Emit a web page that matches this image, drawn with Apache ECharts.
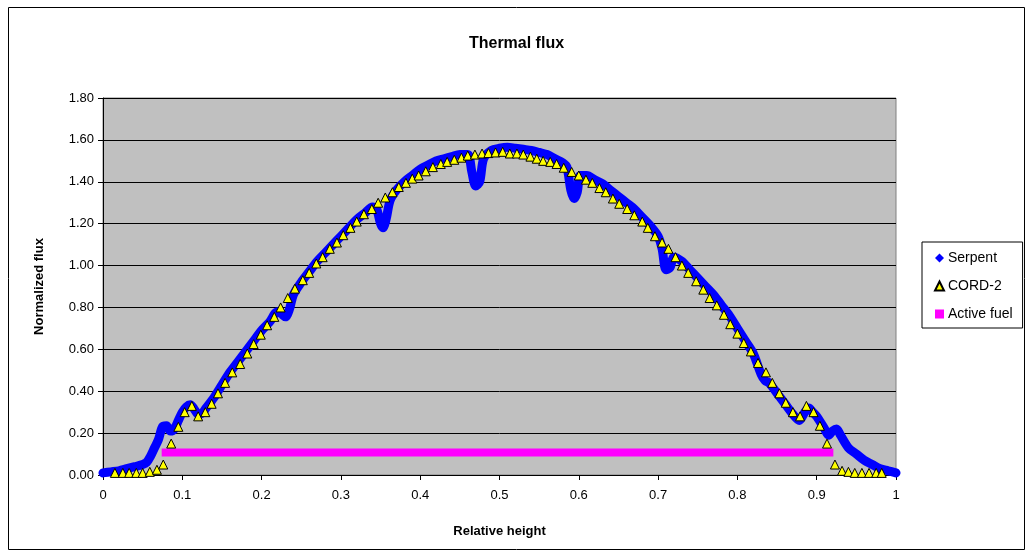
<!DOCTYPE html>
<html>
<head>
<meta charset="utf-8">
<script src="https://cdn.jsdelivr.net/npm/echarts@6/dist/echarts.min.js"></script>
<style>
  html, body { margin: 0; padding: 0; background: #fff; }
  #chart { width: 1033px; height: 557px; }
</style>
</head>
<body>
<div id="chart"></div>
<script>
// Serpent: relative height / normalized flux
const serpentX = [0.000, 0.010, 0.020, 0.030, 0.040, 0.050, 0.055, 0.060, 0.065, 0.070,
  0.075, 0.080, 0.085, 0.090, 0.095, 0.100, 0.105, 0.110, 0.115, 0.120,
  0.125, 0.130, 0.140, 0.150, 0.160, 0.170, 0.180, 0.190, 0.200, 0.210,
  0.220, 0.225, 0.230, 0.235, 0.240, 0.250, 0.260, 0.270, 0.280, 0.290,
  0.300, 0.310, 0.320, 0.330, 0.340, 0.345, 0.350, 0.353, 0.357, 0.362,
  0.370, 0.380, 0.390, 0.400, 0.410, 0.420, 0.430, 0.440, 0.450, 0.460,
  0.465, 0.470, 0.475, 0.480, 0.490, 0.500, 0.510, 0.520, 0.530, 0.540,
  0.550, 0.560, 0.570, 0.580, 0.585, 0.590, 0.594, 0.598, 0.602, 0.610,
  0.620, 0.630, 0.640, 0.650, 0.660, 0.670, 0.680, 0.690, 0.700, 0.705,
  0.710, 0.715, 0.720, 0.730, 0.740, 0.750, 0.760, 0.770, 0.780, 0.790,
  0.800, 0.810, 0.820, 0.830, 0.835, 0.840, 0.850, 0.860, 0.870, 0.878,
  0.885, 0.890, 0.895, 0.900, 0.910, 0.915, 0.920, 0.925, 0.930, 0.940,
  0.950, 0.960, 0.970, 0.980, 0.990, 1.000];
const serpentY = [0.01, 0.015, 0.02, 0.03, 0.04, 0.05, 0.06, 0.09, 0.13, 0.17,
  0.23, 0.235, 0.21, 0.22, 0.26, 0.30, 0.325, 0.335, 0.315, 0.29,
  0.295, 0.32, 0.37, 0.43, 0.49, 0.54, 0.59, 0.64, 0.69, 0.73,
  0.78, 0.77, 0.755, 0.79, 0.86, 0.92, 0.97, 1.02, 1.06, 1.10,
  1.14, 1.18, 1.22, 1.25, 1.28, 1.27, 1.20, 1.18, 1.22, 1.31,
  1.36, 1.40, 1.43, 1.46, 1.48, 1.50, 1.51, 1.52, 1.53, 1.53,
  1.45, 1.38, 1.40, 1.51, 1.55, 1.56, 1.565, 1.56, 1.555, 1.55,
  1.54, 1.53, 1.51, 1.49, 1.47, 1.36, 1.32, 1.35, 1.43, 1.43,
  1.41, 1.39, 1.36, 1.33, 1.30, 1.27, 1.23, 1.19, 1.14, 1.08,
  0.98, 0.99, 1.04, 1.02, 0.98, 0.94, 0.90, 0.86, 0.81, 0.76,
  0.70, 0.64, 0.58, 0.48, 0.45, 0.44, 0.39, 0.34, 0.29, 0.26,
  0.30, 0.32, 0.30, 0.28, 0.22, 0.19, 0.21, 0.22, 0.19, 0.13,
  0.10, 0.07, 0.05, 0.03, 0.02, 0.01];

// CORD-2
const cordX = [0.015, 0.025, 0.033, 0.042, 0.050, 0.059, 0.068, 0.076, 0.086, 0.095,
  0.103, 0.112, 0.120, 0.129, 0.137, 0.145, 0.154, 0.163, 0.173, 0.182,
  0.190, 0.199, 0.207, 0.216, 0.224, 0.233, 0.242, 0.252, 0.260, 0.269,
  0.277, 0.286, 0.295, 0.303, 0.312, 0.320, 0.329, 0.339, 0.347, 0.356,
  0.365, 0.373, 0.382, 0.390, 0.398, 0.407, 0.416, 0.426, 0.434, 0.443,
  0.452, 0.460, 0.469, 0.478, 0.486, 0.495, 0.504, 0.513, 0.522, 0.530,
  0.539, 0.547, 0.555, 0.564, 0.572, 0.581, 0.591, 0.600, 0.609, 0.617,
  0.626, 0.634, 0.643, 0.651, 0.661, 0.670, 0.680, 0.687, 0.696, 0.705,
  0.713, 0.722, 0.730, 0.738, 0.748, 0.757, 0.765, 0.774, 0.783, 0.791,
  0.800, 0.808, 0.817, 0.826, 0.836, 0.844, 0.853, 0.861, 0.870, 0.879,
  0.887, 0.896, 0.904, 0.913, 0.923, 0.932, 0.940, 0.948, 0.957, 0.966,
  0.975, 0.982];
const cordY = [0.01, 0.01, 0.01, 0.01, 0.01, 0.015, 0.025, 0.05, 0.15, 0.23,
  0.30, 0.33, 0.28, 0.30, 0.34, 0.39, 0.44, 0.49, 0.53, 0.58,
  0.625, 0.67, 0.715, 0.755, 0.80, 0.845, 0.89, 0.93, 0.965, 1.01,
  1.04, 1.08, 1.11, 1.145, 1.18, 1.21, 1.245, 1.27, 1.30, 1.325,
  1.35, 1.375, 1.395, 1.415, 1.43, 1.45, 1.47, 1.485, 1.495, 1.505,
  1.515, 1.525, 1.53, 1.535, 1.537, 1.54, 1.543, 1.535, 1.535, 1.53,
  1.52, 1.51, 1.50, 1.495, 1.485, 1.467, 1.447, 1.43, 1.41, 1.395,
  1.37, 1.35, 1.32, 1.295, 1.27, 1.24, 1.21, 1.18, 1.14, 1.11,
  1.08, 1.04, 1.00, 0.965, 0.925, 0.885, 0.845, 0.81, 0.765, 0.72,
  0.675, 0.63, 0.59, 0.535, 0.49, 0.44, 0.39, 0.345, 0.30, 0.28,
  0.33, 0.30, 0.235, 0.15, 0.05, 0.02, 0.015, 0.01, 0.01, 0.01,
  0.01, 0.01];

// Active fuel span
const fuelX = [0.074, 0.921];
const fuelY = [0.107, 0.107];

const zip = (xs, ys) => xs.map((x, i) => [x, ys[i]]);
const FONT = '"Liberation Sans", Arial, sans-serif';

const myChart = echarts.init(document.getElementById('chart'));
const option = {
  backgroundColor: '#fff',
  animation: false,
  textStyle: { fontFamily: FONT },
  title: {
    text: 'Thermal flux',
    left: 'center',
    top: 31,
    textStyle: { fontSize: 16, fontWeight: 'bold', color: '#000', fontFamily: FONT },
  },
  graphic: [{
    type: 'rect',
    shape: { x: 8.5, y: 7.5, width: 1016, height: 542 },
    style: { fill: 'none', stroke: '#000', lineWidth: 1 },
    silent: true,
  }],
  legend: {
    orient: 'vertical',
    left: 922,
    top: 242,
    padding: [9, 10, 7, 12],
    itemGap: 14,
    itemWidth: 9,
    itemHeight: 9,
    backgroundColor: '#fff',
    borderColor: '#000',
    borderWidth: 1,
    borderRadius: 0,
    textStyle: { fontSize: 14, lineHeight: 14, color: '#000', fontFamily: FONT, padding: [0, 0, 0, -1] },
    data: [
      { name: 'Serpent', icon: 'diamond' },
      { name: 'CORD-2', icon: 'triangle' },
      { name: 'Active fuel', icon: 'rect' },
    ],
  },
  grid: {
    left: 103,
    right: 137,
    top: 98,
    bottom: 82,
    show: true,
    backgroundColor: '#c0c0c0',
    borderColor: '#808080',
    borderWidth: 1,
  },
  xAxis: {
    type: 'value',
    min: 0,
    max: 1,
    interval: 0.1,
    name: 'Relative height',
    nameLocation: 'middle',
    nameGap: 50,
    nameTextStyle: { fontSize: 13, fontWeight: 'bold', color: '#000', fontFamily: FONT },
    axisLine: { show: true, onZero: false, lineStyle: { color: '#000', width: 1 } },
    axisTick: { show: true, inside: false, length: 5, lineStyle: { color: '#000' } },
    axisLabel: {
      fontSize: 13, color: '#000', margin: 14,
      formatter: v => String(+v.toFixed(1)),
    },
    splitLine: { show: false },
  },
  yAxis: {
    type: 'value',
    min: 0,
    max: 1.8,
    interval: 0.2,
    name: 'Normalized flux',
    nameLocation: 'middle',
    nameGap: 57,
    nameTextStyle: { fontSize: 13, fontWeight: 'bold', color: '#000', fontFamily: FONT },
    axisLine: { show: true, lineStyle: { color: '#000', width: 1 } },
    axisTick: { show: true, inside: false, length: 5, lineStyle: { color: '#000' } },
    axisLabel: {
      fontSize: 13, color: '#000', margin: 9,
      formatter: v => v.toFixed(2),
    },
    splitLine: { show: true, lineStyle: { color: '#000', width: 1 } },
  },
  series: [
    {
      name: 'Serpent',
      type: 'line',
      data: zip(serpentX, serpentY),
      symbol: 'diamond',
      showSymbol: false,
      smooth: 0.3,
      lineStyle: { color: '#0000ff', width: 9, join: 'round', cap: 'round' },
      itemStyle: { color: '#0000ff' },
      z: 2,
    },
    {
      name: 'CORD-2',
      type: 'scatter',
      data: zip(cordX, cordY),
      symbol: 'triangle',
      symbolSize: 9,
      itemStyle: { color: '#ffff00', borderColor: '#000', borderWidth: 1, opacity: 1 },
      z: 4,
    },
    {
      name: 'Active fuel',
      type: 'line',
      data: zip(fuelX, fuelY),
      symbol: 'rect',
      showSymbol: false,
      lineStyle: { color: '#ff00ff', width: 8, cap: 'butt' },
      itemStyle: { color: '#ff00ff' },
      z: 3,
    },
  ],
};
myChart.setOption(option);
</script>
</body>
</html>
